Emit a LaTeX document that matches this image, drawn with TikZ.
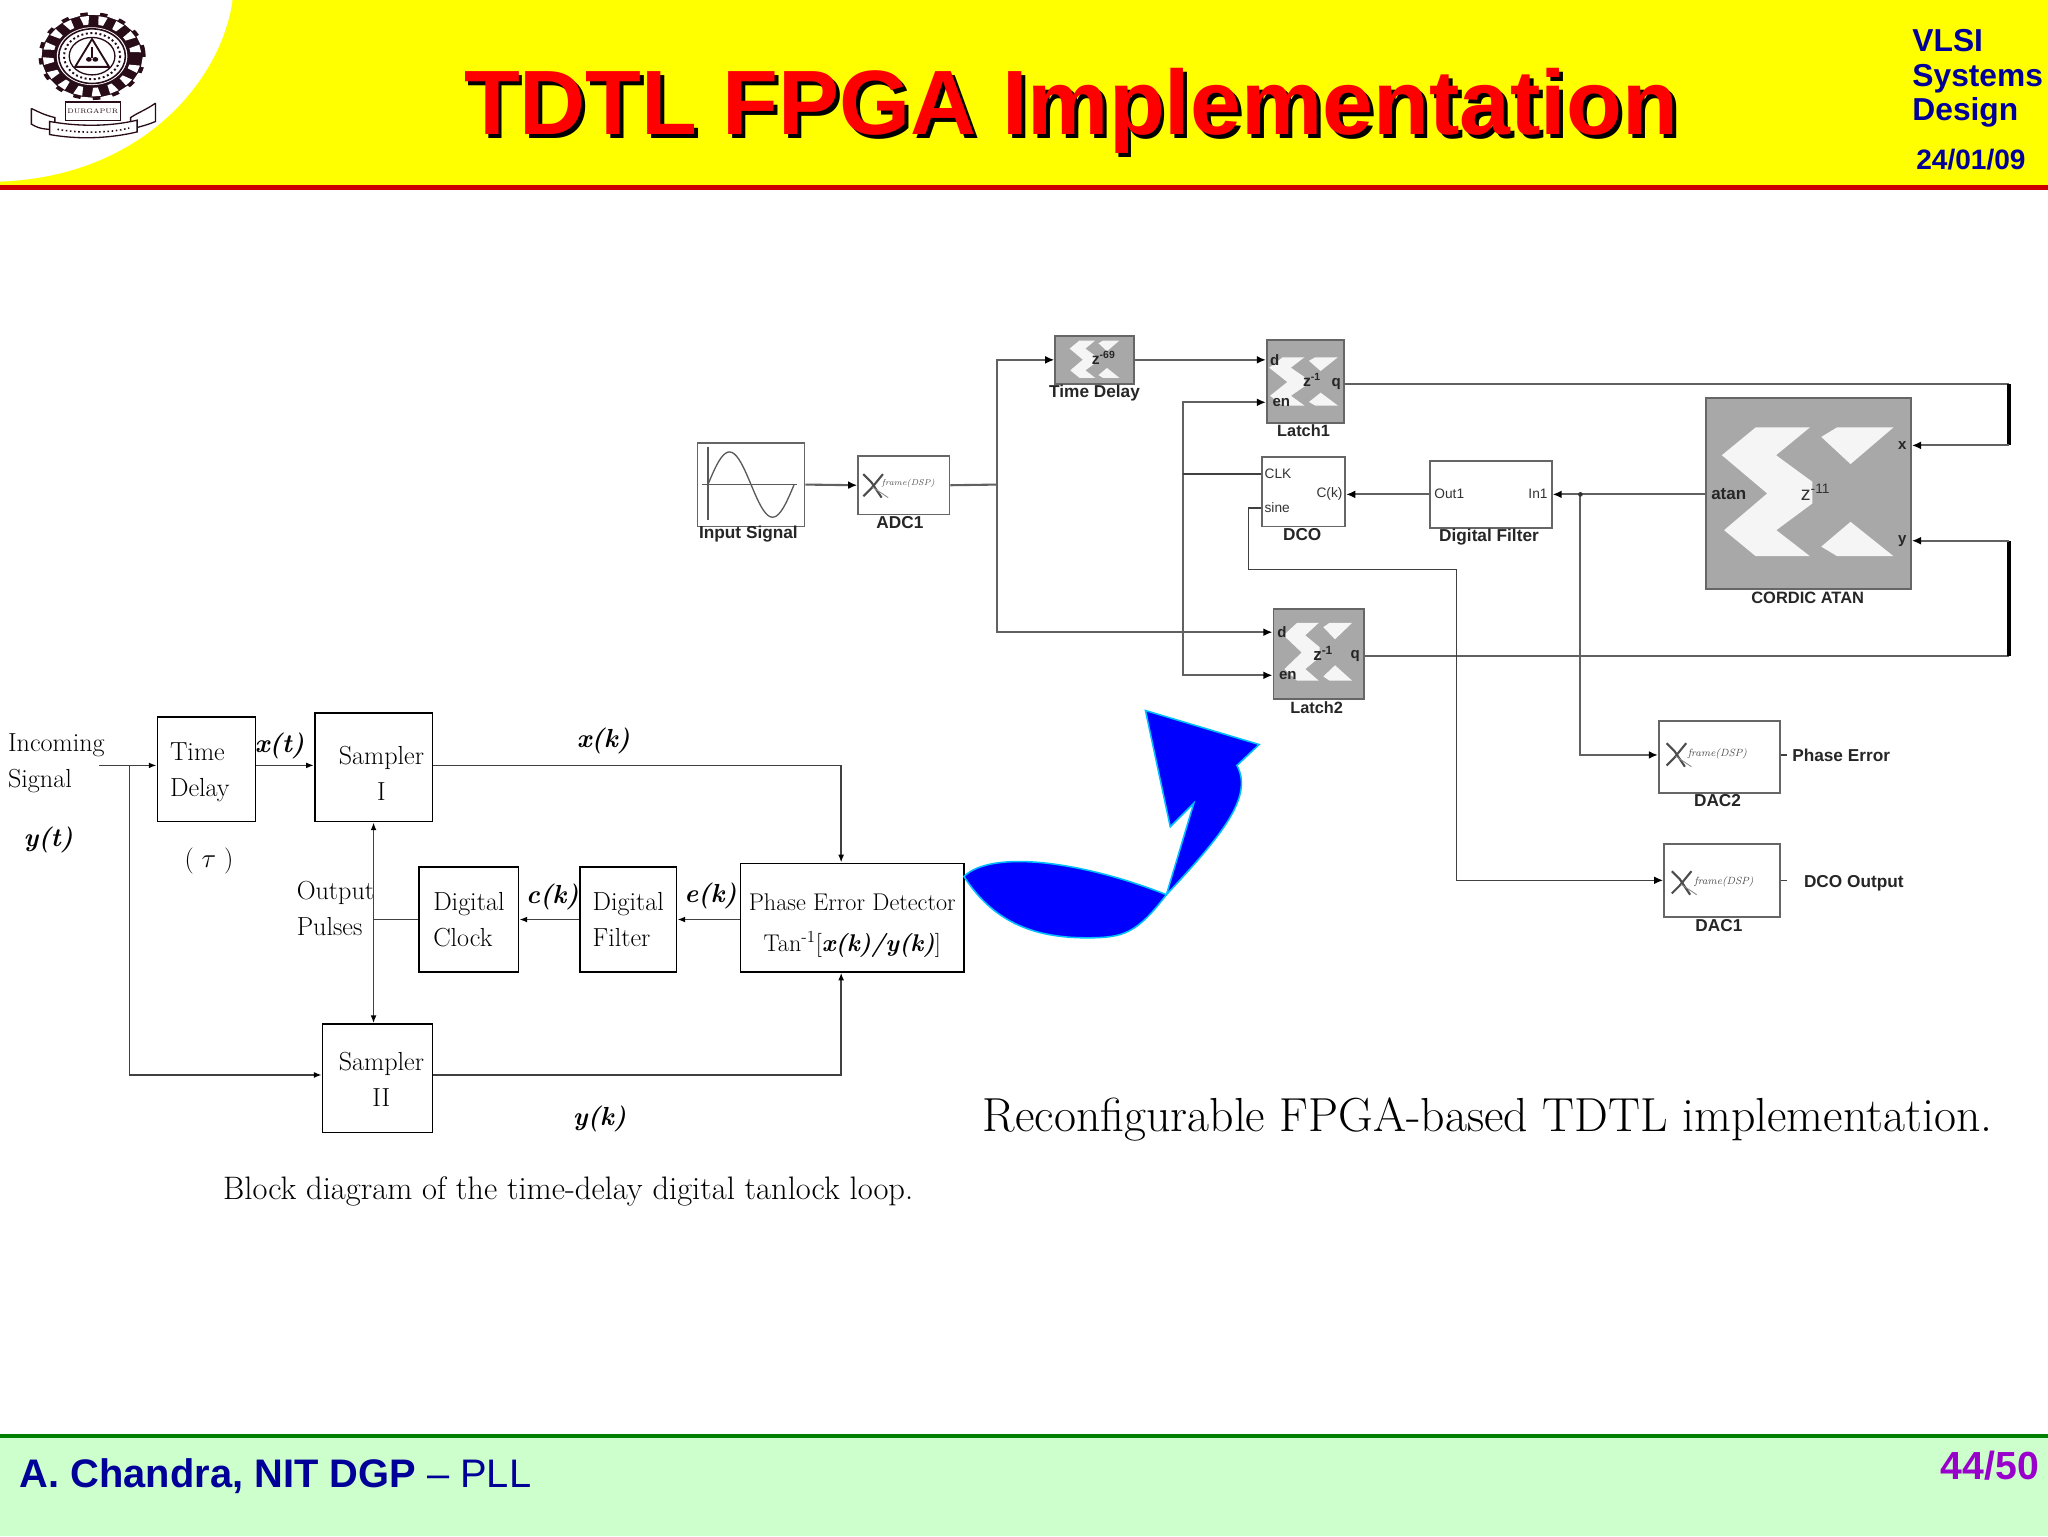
\documentclass[tikz,border=0pt]{standalone}
\usepackage{fontspec}
\usetikzlibrary{arrows.meta}
\newfontfamily\slidefont{Liberation Sans}
\definecolor{slideyellow}{RGB}{255, 255, 0}
\definecolor{titlered}{RGB}{255, 0, 0}
\definecolor{slidenavy}{RGB}{0, 0, 153}
\definecolor{slidered}{RGB}{204, 0, 0}
\definecolor{slidegreen}{RGB}{0, 128, 0}
\definecolor{footgreen}{RGB}{204, 255, 204}
\definecolor{pagepurple}{RGB}{153, 0, 204}
\definecolor{logodark}{RGB}{40, 12, 24}
\definecolor{blockgray}{RGB}{168, 168, 168}
\definecolor{logowhite}{RGB}{245, 245, 245}
\definecolor{arrowblue}{RGB}{0, 0, 255}
\definecolor{arrowcyan}{RGB}{0, 190, 255}
\tikzset{
    wire/.style={draw=black!62, line width=1.6},
    thinwire/.style={draw=black!75, line width=1.2},
    tip/.style={-{Latex[length=7,width=6,black]}},
    blocktip/.style={-{Latex[length=6,width=4.5,black]}},
    looptext/.style={font=\fontsize{20}{27.5}\selectfont, inner sep=0},
    blockbox/.style={draw, line width=1.2, fill=white, looptext, align=center},
    whitebox/.style={draw=black!60, line width=1.3, fill=white, inner sep=0},
    graybox/.style={draw=black!60, line width=1.5, fill=blockgray, inner sep=0},
    blockname/.style={font=\slidefont\bfseries\fontsize{13.2}{14}\selectfont, inner sep=0, black!85},
    portname/.style={font=\slidefont\fontsize{10.5}{12}\selectfont, inner sep=0, black!80},
    boldport/.style={font=\slidefont\bfseries\fontsize{11.5}{12}\selectfont, inner sep=0, black!85},
    tinytext/.style={font=\itshape\fontsize{6.5}{7}\selectfont, inner sep=0, black!70},
    xlogo/.pic={
        \fill[logowhite] (-65.7,-28) -- (-39.8,-49.3) -- (1.7,-49.3) -- (-24.2,-28) -- (3.5,-7.7)
            -- (3.5,9) -- (-24,29.4) -- (1.7,49.3) -- (-39.8,49.3) -- (-64,29.4) -- (-31,1.3) -- cycle;
        \fill[logowhite] (22.5,-49.3) -- (65.7,-49.3) -- (32.8,-21.2) -- (10.4,-42) -- cycle;
        \fill[logowhite] (32.8,23) -- (65.7,49.3) -- (22.5,49.3) -- (10.4,42) -- cycle;
    },
    xmark/.pic={
        \draw[black!70, line width=1.6] (-7,-9) -- (-1,-3) -- (7,9);
        \draw[black!70, line width=1.6] (8,-9) -- (-1,2) -- (-7,8);
        \draw[black!45, line width=.7] (0,1) -- (12,9);
    }
}
\begin{document}
\begin{tikzpicture}[x=1pt, y=-1pt]
    \useasboundingbox (0,0) rectangle (1568,1176);
    \fill[white] (0,0) rectangle (1568,1176);

    % header
    \fill[slideyellow] (0,0) rectangle (1568,142);
    \fill[white] (0,0) -- (178,0) .. controls (170,60) and (110,135) .. (0,139) -- cycle;
    \fill[slidered] (0,142) rectangle (1568,145.5);

    % logo
    \begin{scope}[shift={(70.5,43)}, yscale=.82]
        \fill[logodark] (0,0) circle (41);
        \foreach \ang in {11,33,...,360} {
            \fill[white, rotate=\ang] (29.5,-1.8) -- (29.5,1.8) -- (37.5,3.6) -- (37.5,-3.6) -- cycle;
            \fill[white, rotate=\ang+11] (38.5,-4.5) -- (38.5,4.5) -- (42,5) -- (42,-5) -- cycle;
        }
        \fill[white] (0,0) circle (27);
        \draw[logodark, line width=1.2] (0,0) circle (25.5);
        \draw[logodark, line width=1.5, dotted] (0,0) circle (21.5);
        \draw[logodark, line width=1] (0,0) circle (17.5);
        \draw[logodark, line width=1.4] (0,-16) -- (-13,10) -- (13,10) -- cycle;
        \fill[logodark] (-2.5,3) circle (2.2) (2.5,3) circle (2.2);
        \fill[logodark] (-.9,-9) rectangle (.9,2);
    \end{scope}
    \draw[logodark, line width=1, fill=white] (50,78) rectangle (92,92);
    \node[font=\fontsize{5}{6}\selectfont, inner sep=0, logodark] (logoplace) at (71,85) {DURGAPUR};
    \draw[logodark, line width=1] (24,83) -- (24,95) .. controls (32,100) and (36,98) .. (42,100) -- (42,90) .. controls (34,88) and (30,86) .. (24,83);
    \draw[logodark, line width=1] (119,79) -- (119,93) .. controls (110,97) and (104,97) .. (100,100) -- (100,90) .. controls (106,86) and (112,84) .. (119,79);
    \draw[logodark, line width=1, fill=white] (38,93) .. controls (60,97) and (84,97) .. (105,92) -- (105,101) .. controls (84,106) and (60,107) .. (38,103) -- cycle;
    \draw[logodark, line width=1.2, dotted] (44,99) .. controls (60,102) and (84,102) .. (99,98);

    % title and side text
    \node[font=\slidefont\bfseries\fontsize{70}{70}\selectfont, inner sep=0, black, anchor=base] (titleback) at (823,106) {TDTL FPGA Implementation};
    \node[font=\slidefont\bfseries\fontsize{70}{70}\selectfont, inner sep=0, titlered, anchor=base] (title) at (820,103) {TDTL FPGA Implementation};
    \node[font=\slidefont\bfseries\fontsize{24.3}{26.7}\selectfont, inner sep=0, slidenavy, anchor=north west, align=left] (course) at (1464,22) {VLSI\\Systems\\Design};
    \node[font=\slidefont\bfseries\fontsize{21.5}{24}\selectfont, inner sep=0, slidenavy] (slidedate) at (1509,122) {24/01/09};

    % footer
    \fill[footgreen] (0,1100) rectangle (1568,1176);
    \fill[slidegreen] (0,1098) rectangle (1568,1101);
    \node[font=\slidefont\fontsize{30.5}{32}\selectfont, inner sep=0, slidenavy, anchor=base west] (author) at (15,1139) {\textbf{A. Chandra, NIT DGP} – PLL};
    \node[font=\slidefont\bfseries\fontsize{30}{32}\selectfont, inner sep=0, pagepurple] (pageno) at (1523.5,1122) {44/50};

    % tanlock loop blocks
    \node[blockbox, minimum width=75, minimum height=80, align=left] (timedelay) at (158,589) {\rule{0pt}{18pt}Time\\Delay\hspace*{10pt}};
    \node[blockbox, minimum width=90, minimum height=83] (samplerone) at (286,587.5) {\rule{0pt}{23pt}\hspace*{12pt}Sampler\\\hspace*{12pt}I};
    \node[blockbox, minimum width=84, minimum height=83] (samplertwo) at (289,825.5) {\rule{0pt}{16pt}\hspace*{6pt}Sampler\\\hspace*{6pt}II};
    \node[blockbox, minimum width=76, minimum height=80, align=left] (digiclock) at (359,704) {Digital\\Clock};
    \node[blockbox, minimum width=74, minimum height=80, align=left] (digifilter) at (481,704) {Digital\\Filter};
    \node[blockbox, minimum width=171, minimum height=83, font=\fontsize{18.5}{31}\selectfont] (detector) at (652.5,702.5) {\rule{0pt}{25pt}Phase Error Detector\\Tan\textsuperscript{-1}[\textbf{\textit{x(k)/y(k)}}]};

    % tanlock loop texts
    \node[looptext, anchor=west, align=left] (incoming) at (6,584.5) {Incoming\\Signal};
    \node[looptext, anchor=west, align=left] (outpulses) at (227,695.5) {Output\\Pulses};
    \node[looptext] (ytlabel) at (37,643) {\textbf{\textit{y(t)}}};
    \node[looptext] (taulabel) at (160,659) {( $\tau$ )};
    \node[looptext] (xtlabel) at (214,571) {\textbf{\textit{x(t)}}};
    \node[looptext] (xklabel) at (462,567) {\textbf{\textit{x(k)}}};
    \node[looptext] (cklabel) at (423,687) {\textbf{\textit{c(k)}}};
    \node[looptext] (eklabel) at (544,686) {\textbf{\textit{e(k)}}};
    \node[looptext] (yklabel) at (459,857) {\textbf{\textit{y(k)}}};
    \node[inner sep=0, font=\fontsize{24.9}{26}\selectfont] (loopcaption) at (435,912) {Block diagram of the time-delay digital tanlock loop.};

    % tanlock loop wires
    \coordinate (insrc) at (76,586);
    \coordinate (inbranch) at (99,586);
    \coordinate (yout) at (644,823);
    \coordinate (pulsebus) at (286,704);
    \draw[thinwire, blocktip] (insrc) -- (timedelay.west |- insrc);
    \draw[thinwire, blocktip] (inbranch) |- (samplertwo.west |- yout);
    \draw[thinwire, blocktip] (timedelay.east |- insrc) -- (samplerone.west |- insrc);
    \draw[thinwire, blocktip] (samplerone.east |- insrc) -| (detector.north -| yout);
    \draw[thinwire, blocktip] (samplertwo.east |- yout) -- (yout) -- (detector.south -| yout);
    \draw[thinwire, blocktip] (detector.west |- digifilter.east) -- (digifilter.east);
    \draw[thinwire, blocktip] (digifilter.west) -- (digiclock.east);
    \draw[thinwire] (digiclock.west) -- (pulsebus);
    \draw[thinwire, blocktip] (pulsebus) -- (samplerone.south -| pulsebus);
    \draw[thinwire, blocktip] (pulsebus) -- (samplertwo.north -| pulsebus);

    % arrow between the two figures
    \path[fill=arrowblue, draw=arrowcyan, line width=1.2]
        (738,671) .. controls (760,650) and (830,660) .. (893,685) -- (914,615) -- (896,633) -- (877,544)
        -- (964,570) -- (947,586) .. controls (960,610) and (935,640) .. (893,685)
        .. controls (870,715) and (860,718) .. (832,718) .. controls (790,718) and (760,705) .. (738,671) -- cycle;

    % fpga blocks
    \node[whitebox, minimum width=82, minimum height=64] (inputsig) at (575,371) {};
    \node[whitebox, minimum width=70, minimum height=45] (adcone) at (692,371.5) {};
    \node[graybox, minimum width=60, minimum height=37] (timebox) at (838,275.5) {};
    \node[graybox, minimum width=59, minimum height=64] (latchone) at (999.5,292) {};
    \node[graybox, minimum width=69, minimum height=69] (latchtwo) at (1009.5,500.5) {};
    \node[whitebox, minimum width=64, minimum height=53] (dco) at (998,376.5) {};
    \node[whitebox, minimum width=93, minimum height=51] (dfilter) at (1141.5,378.5) {};
    \node[graybox, minimum width=157, minimum height=146] (cordic) at (1384.5,378) {};
    \node[whitebox, minimum width=93, minimum height=55] (dactwo) at (1316.5,579.5) {};
    \node[whitebox, minimum width=89, minimum height=56] (dacone) at (1318.5,674) {};

    % scope trace
    \draw[black!65, line width=1] (542,342) -- (542,398);
    \draw[black!65, line width=1.3] (537.5,371) -- (610,371);
    \draw[black!65, line width=1] plot[domain=0:360, samples=40, smooth] ({542+\x/360*66},{371-25*sin(\x)});

    % logos in the blocks
    \pic[xscale=1, yscale=1] at (1384,376.5) {xlogo};
    \pic[xscale=.4, yscale=.375] at (998,292) {xlogo};
    \pic[xscale=.4, yscale=.45] at (1009,499) {xlogo};
    \pic[xscale=.29, yscale=.29] at (838,275) {xlogo};
    \pic at (668,372) {xmark};
    \pic at (1283,578) {xmark};
    \pic at (1287,676) {xmark};
    \node[tinytext, anchor=west] (adctext) at (675,370) {frame(DSP)};
    \node[tinytext, anchor=west, font=\itshape\fontsize{8}{9}\selectfont] (dactwotext) at (1292,577) {frame(DSP)};
    \node[tinytext, anchor=west, font=\itshape\fontsize{8}{9}\selectfont] (daconetext) at (1297,675) {frame(DSP)};

    % ports
    \node[boldport] (latchoned) at (976,276) {d};
    \node[boldport] (latchoneen) at (981,308) {en};
    \node[boldport] (latchoneq) at (1023,294) {q};
    \node[boldport] (latchtwod) at (981.5,484) {d};
    \node[boldport] (latchtwoen) at (986,517) {en};
    \node[boldport] (latchtwoq) at (1037.5,502) {q};
    \node[portname, anchor=west] (dcoclk) at (968,363) {CLK};
    \node[portname, anchor=west] (dcosine) at (968,389) {sine};
    \node[portname, anchor=east] (dcock) at (1028,378) {C(k)};
    \node[portname, anchor=west] (filterout) at (1098,378) {Out1};
    \node[portname, anchor=east] (filterin) at (1185,378) {In1};
    \node[boldport, anchor=west, font=\slidefont\bfseries\fontsize{13}{14}\selectfont] (cordicatan) at (1310,378) {atan};
    \node[boldport] (cordicx) at (1456.5,341) {x};
    \node[boldport] (cordicy) at (1456.5,414) {y};
    \node[boldport, font=\slidefont\bfseries\fontsize{12}{13}\selectfont] (timez) at (845,274) {z\textsuperscript{-69}};
    \node[boldport, font=\slidefont\bfseries\fontsize{12}{13}\selectfont] (latchonez) at (1004.5,291) {z\textsuperscript{-1}};
    \node[boldport, font=\slidefont\bfseries\fontsize{13}{14}\selectfont] (latchtwoz) at (1013,500) {z\textsuperscript{-1}};
    \node[portname, font=\slidefont\fontsize{15}{16}\selectfont] (cordicz) at (1390,377) {z\textsuperscript{-11}};

    % block names
    \node[blockname] (inputname) at (573,409) {Input Signal};
    \node[blockname] (adcname) at (689,400) {ADC1};
    \node[blockname] (timename) at (838,301) {Time Delay};
    \node[blockname, font=\slidefont\bfseries\fontsize{12.5}{14}\selectfont] (latchonename) at (998,330) {Latch1};
    \node[blockname, font=\slidefont\bfseries\fontsize{12.5}{14}\selectfont] (latchtwoname) at (1008,542) {Latch2};
    \node[blockname] (dconame) at (997,409) {DCO};
    \node[blockname] (filtername) at (1140,411) {Digital Filter};
    \node[blockname, font=\slidefont\bfseries\fontsize{12.6}{14}\selectfont] (cordicname) at (1384,458) {CORDIC ATAN};
    \node[blockname] (dactwoname) at (1315,613) {DAC2};
    \node[blockname] (daconename) at (1316,709) {DAC1};
    \node[blockname, anchor=west] (phaseerr) at (1372,578) {Phase Error};
    \node[blockname, anchor=west] (dcoout) at (1381,676) {DCO Output};

    % fpga wires
    \coordinate (inbus) at (763,371);
    \coordinate (enbus) at (906,363);
    \coordinate (rtop) at (1538,294);
    \coordinate (rxin) at (1538,341);
    \coordinate (rbot) at (1538,502);
    \coordinate (ryin) at (1538,414);
    \coordinate (dacbus) at (1210,378.5);
    \coordinate (sinea) at (956,436);
    \coordinate (sineb) at (1115,436);
    \coordinate (dactwostub) at (1368,578);
    \coordinate (daconestub) at (1368,674);
    \draw[wire, tip] (inputsig.east) -- (adcone.west);
    \draw[wire] (adcone.east) -- (inbus);
    \draw[wire, tip] (inbus) |- (timebox.west);
    \draw[wire, tip] (timebox.east) -- (latchone.west |- timebox.east);
    \draw[wire, tip] (inbus) |- (latchtwo.west |- latchtwod);
    \draw[wire, tip] (enbus) |- (latchone.west |- latchoneen);
    \draw[wire, tip] (enbus) |- (latchtwo.west |- latchtwoen);
    \draw[thinwire] (enbus) -- (dco.west |- enbus);
    \draw[wire] (latchone.east |- latchoneq) -- (rtop);
    \draw[line width=3, black] (rtop) -- (rxin);
    \draw[wire, tip] (rxin) -- (cordic.east |- rxin);
    \draw[wire] (latchtwo.east |- latchtwoq) -- (rbot);
    \draw[line width=3, black] (rbot) -- (ryin);
    \draw[wire, tip] (ryin) -- (cordic.east |- ryin);
    \draw[wire, tip] (cordic.west |- dacbus) -- (dfilter.east);
    \draw[wire, tip] (dfilter.west) -- (dco.east |- dfilter.west);
    \draw[wire, tip] (dacbus) |- (dactwo.west |- dactwostub);
    \fill[black!80] (dacbus) circle (1.8);
    \draw[thinwire, tip] (dco.west |- dcosine) -| (sinea) -- (sineb) |- (dacone.west);
    \draw[thinwire] (dactwo.east |- dactwostub) -- (dactwostub);
    \draw[thinwire] (dacone.east |- daconestub) -- (daconestub);
    \node[inner sep=0, font=\fontsize{36.6}{38}\selectfont] (fpgacaption) at (1139,857) {Reconfigurable FPGA-based TDTL implementation.};
\end{tikzpicture}
\end{document}
